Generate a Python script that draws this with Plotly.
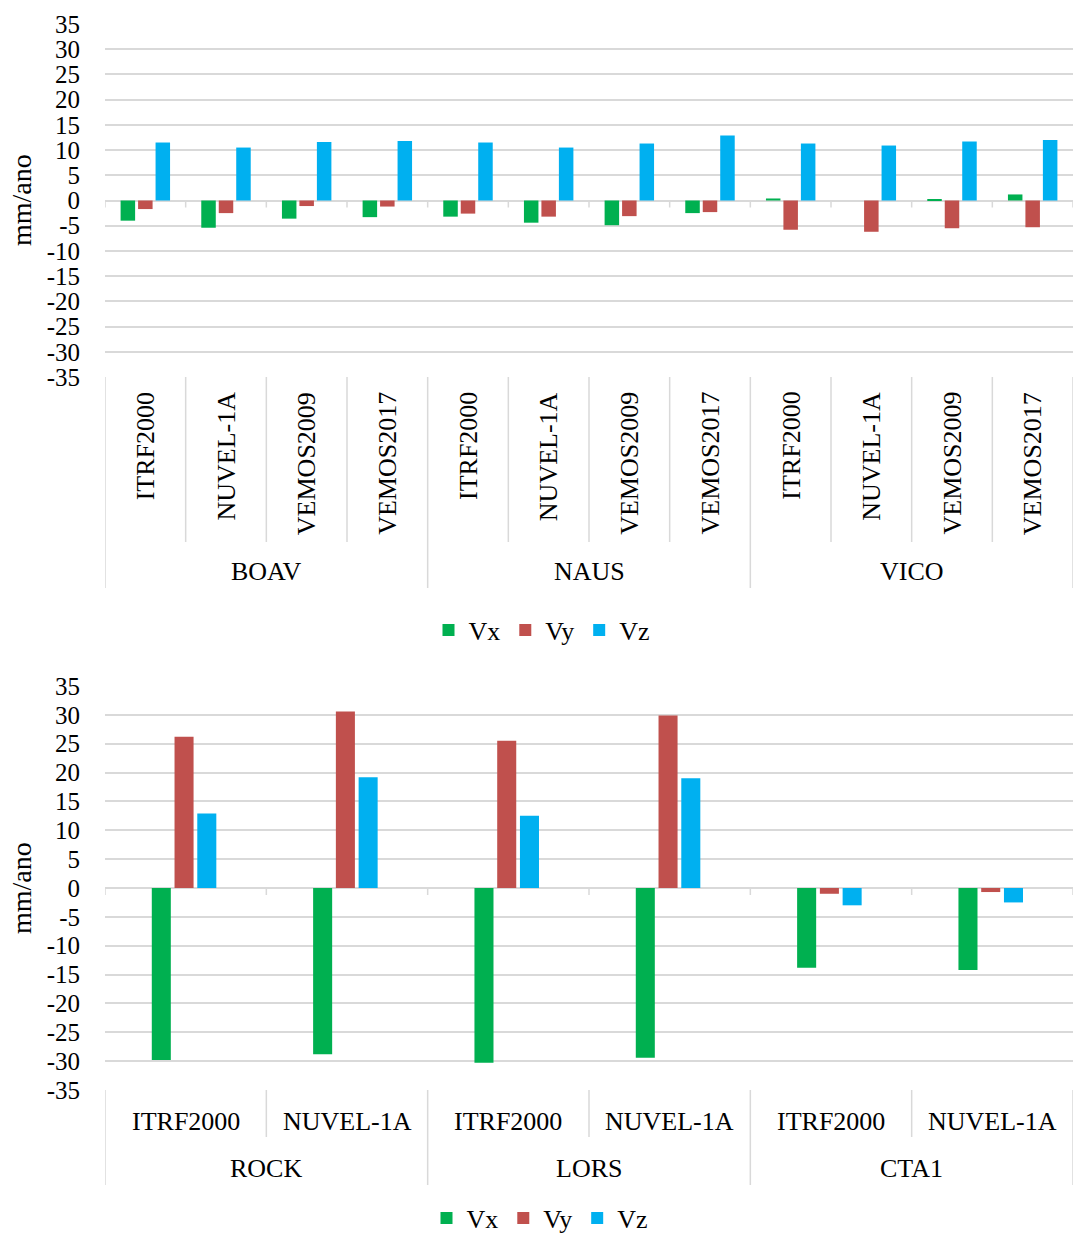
import plotly.graph_objects as go

# Station velocity components (mm/ano) per plate model
top_groups = ["BOAV", "NAUS", "VICO"]
top_models = ["ITRF2000", "NUVEL-1A", "VEMOS2009", "VEMOS2017"]
top_vx = [-4.0, -5.4, -3.6, -3.3, -3.2, -4.4, -4.9, -2.5, 0.4, 0.0, 0.2, 1.2]
top_vy = [-1.7, -2.5, -1.1, -1.2, -2.6, -3.2, -3.1, -2.3, -5.8, -6.2, -5.5, -5.3]
top_vz = [11.5, 10.5, 11.6, 11.8, 11.5, 10.5, 11.3, 12.9, 11.3, 10.9, 11.7, 12.0]

bot_groups = ["ROCK", "LORS", "CTA1"]
bot_models = ["ITRF2000", "NUVEL-1A"]
bot_vx = [-29.8, -28.8, -30.3, -29.4, -13.8, -14.2]
bot_vy = [26.2, 30.6, 25.5, 29.9, -1.0, -0.7]
bot_vz = [12.9, 19.2, 12.5, 19.0, -3.0, -2.5]

series_names = ["Vx", "Vy", "Vz"]
colors = ["#00B050", "#C0504D", "#00B0F0"]

# value-axis ticks, written with a plain hyphen for negatives
y_ticks = [-35, -30, -25, -20, -15, -10, -5, 0, 5, 10, 15, 20, 25, 30, 35]
y_tick_text = [str(v) for v in y_ticks]

W, H = 1073, 1234
FONT = "Liberation Serif"
GRID = "#D9D9D9"


def py(px):
    return 1 - px / H


def px_x(px):
    return px / W


fig = go.Figure()

panels = [
    dict(xa="x", ya="y", groups=top_groups, models=top_models,
         vals=[top_vx, top_vy, top_vz], legend="legend",
         ytop=24, ybot=377, sub_bot=542, grp_bot=588, grp_y=572,
         rotate=True, cat_y=390, title_y=200),
    dict(xa="x2", ya="y2", groups=bot_groups, models=bot_models,
         vals=[bot_vx, bot_vy, bot_vz], legend="legend2",
         ytop=686, ybot=1090, sub_bot=1137, grp_bot=1185, grp_y=1168,
         rotate=False, cat_y=1121, title_y=888),
]

shapes = []
annotations = []

for p in panels:
    n = len(p["groups"]) * len(p["models"])
    xs = list(range(n))
    for name, vals, col in zip(series_names, p["vals"], colors):
        fig.add_trace(go.Bar(
            x=xs, y=vals, name=name, marker_color=col,
            marker_line_width=0, xaxis=p["xa"], yaxis=p["ya"],
            legend=p["legend"],
        ))

    xref = p["xa"]
    yref = p["ya"]
    nm = len(p["models"])
    # category dividers below the plot area
    for b in range(n + 1):
        is_group = (b % nm == 0)
        shapes.append(dict(
            type="line", xref=xref, yref="paper",
            x0=b - 0.5, x1=b - 0.5,
            y0=py(p["ybot"]), y1=py(p["grp_bot"] if is_group else p["sub_bot"]),
            line=dict(color=GRID, width=1.5),
        ))
        # tick marks where the category axis crosses zero
        shapes.append(dict(
            type="line", xref=xref, yref=yref, ysizemode="pixel", yanchor=0,
            x0=b - 0.5, x1=b - 0.5, y0=0, y1=-7,
            line=dict(color=GRID, width=1.5),
        ))

    # model labels
    for i in range(n):
        label = p["models"][i % nm]
        if p["rotate"]:
            annotations.append(dict(
                xref=xref, yref="paper", x=i, y=py(p["cat_y"]),
                text=label, textangle=-90, showarrow=False,
                xanchor="center", yanchor="top",
                font=dict(family=FONT, size=26, color="black"),
            ))
        else:
            annotations.append(dict(
                xref=xref, yref="paper", x=i, y=py(p["cat_y"]),
                text=label, showarrow=False,
                xanchor="center", yanchor="middle",
                font=dict(family=FONT, size=26, color="black"),
            ))

    # station labels
    for g, gname in enumerate(p["groups"]):
        annotations.append(dict(
            xref=xref, yref="paper", x=g * nm + (nm - 1) / 2, y=py(p["grp_y"]),
            text=gname, showarrow=False, xanchor="center", yanchor="middle",
            font=dict(family=FONT, size=26, color="black"),
        ))

    # vertical axis title
    annotations.append(dict(
        xref="paper", yref="paper", x=px_x(21), y=py(p["title_y"]),
        text="mm/ano", textangle=-90, showarrow=False,
        xanchor="center", yanchor="middle",
        font=dict(family=FONT, size=28, color="black"),
    ))

x_dom = [px_x(105), 1.0]
yaxis_common = dict(
    range=[-35, 35], tickmode="array", tickvals=y_ticks, ticktext=y_tick_text,
    showgrid=True, gridcolor=GRID, gridwidth=1.5,
    zeroline=False, showline=False, ticks="", ticklabelstandoff=24,
    tickfont=dict(family=FONT, size=25, color="black"), fixedrange=True,
)
xaxis_common = dict(showticklabels=False, showgrid=False, zeroline=False,
                    showline=False, ticks="", fixedrange=True)

legend_common = dict(orientation="h", xanchor="center", yanchor="middle",
                     itemwidth=30, font=dict(family=FONT, size=26, color="black"),
                     bgcolor="rgba(0,0,0,0)")

fig.update_layout(
    width=W, height=H,
    margin=dict(l=0, r=0, t=0, b=0, autoexpand=False),
    paper_bgcolor="white", plot_bgcolor="white",
    barmode="group", bargap=0.35, bargroupgap=0.17,
    xaxis=dict(domain=x_dom, anchor="y", range=[-0.5, 11.5], **xaxis_common),
    yaxis=dict(domain=[py(377), py(24)], anchor="x", **yaxis_common),
    xaxis2=dict(domain=x_dom, anchor="y2", range=[-0.5, 5.5], **xaxis_common),
    yaxis2=dict(domain=[py(1090), py(686)], anchor="x2", **yaxis_common),
    legend=dict(x=px_x(542), y=py(630), **legend_common),
    legend2=dict(x=px_x(540), y=py(1218), **legend_common),
    shapes=shapes,
    annotations=annotations,
    showlegend=True,
)

# narrower bars for the wider categories of the lower panel
for tr in fig.data:
    if tr.xaxis == "x2":
        idx = series_names.index(tr.name)
        tr.width = 0.118
        tr.offset = -0.21 + idx * 0.141

fig.write_html("out.html")
